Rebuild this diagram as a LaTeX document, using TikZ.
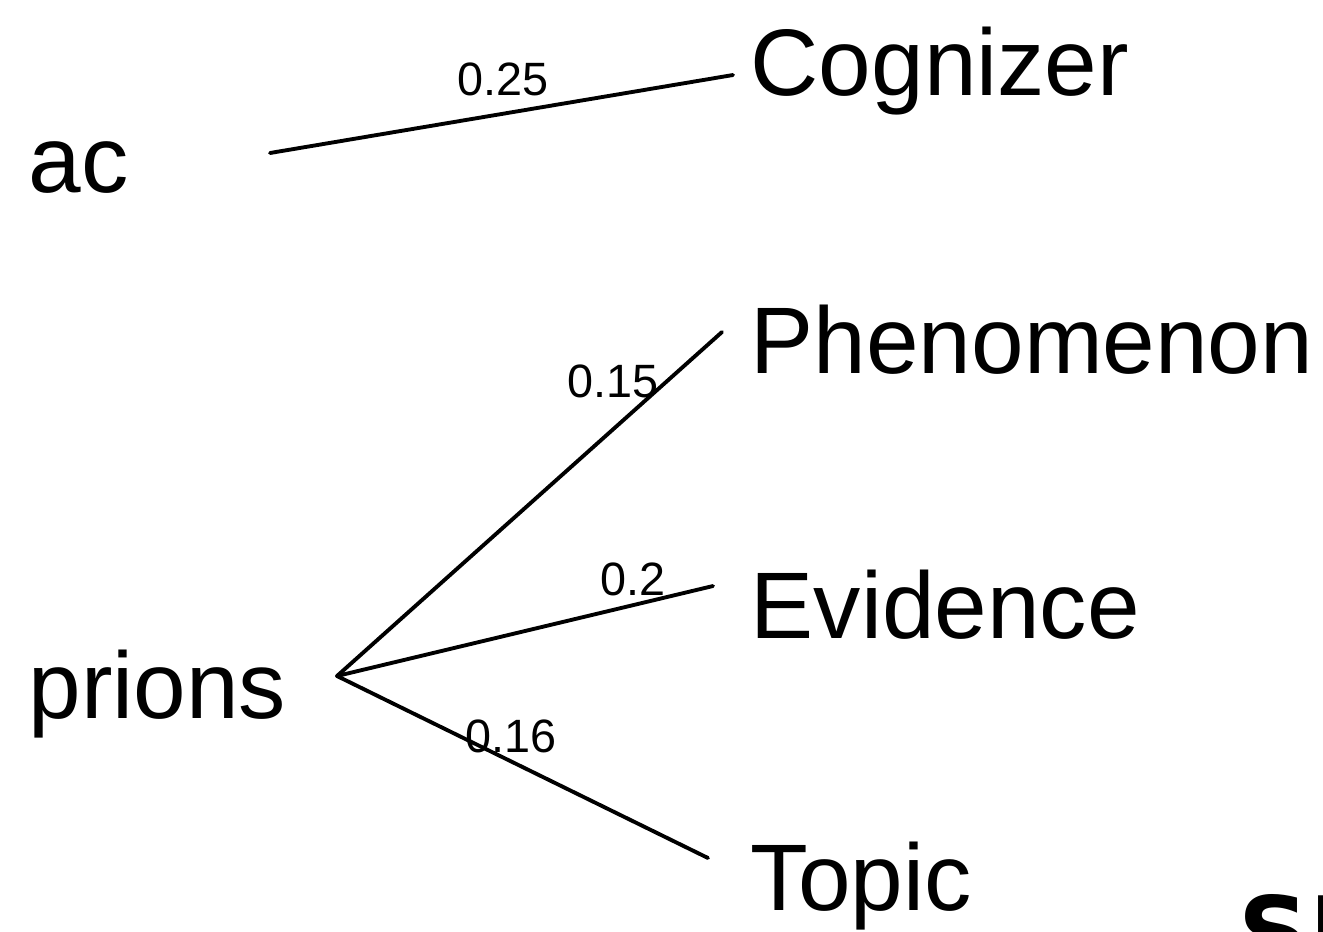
\documentclass[tikz,border=0pt]{standalone}
\usepackage{fontspec}
\setmainfont{Liberation Sans}
\newfontfamily\fragfont{DejaVu Sans}
\usepackage{tikz}

\begin{document}
\begin{tikzpicture}[
    word/.style={anchor=base west,inner sep=0pt,font=\fontsize{26.9}{30}\selectfont},
    weight/.style={anchor=base west,inner sep=0pt,font=\fontsize{13.3}{15}\selectfont},
    link/.style={line width=1.1pt,line cap=round}]
  \useasboundingbox (0,0) rectangle (13.23,9.31);
  \clip (0,0) rectangle (13.23,9.31);
  % words on the left
  \node[word] (ac)     at (0.28,7.39) {ac};
  \node[word] (prions) at (0.28,2.13) {prions};
  % frames on the right
  \node[word] (cognizer)   at (7.50,8.36) {Cognizer};
  \node[word] (phenomenon) at (7.50,5.58) {Phenomenon};
  \node[word] (evidence)   at (7.50,2.93) {Evidence};
  \node[word] (topic)      at (7.50,0.21) {Topic};
  \coordinate (hub) at ([shift={(3.09,0.42)}]prions.base west);
  \draw[link] ([shift={(2.42,0.39)}]ac.base west) -- ([shift={(-0.17,0.20)}]cognizer.base west);
  \draw[link] (hub) -- ([shift={(-0.28,0.41)}]phenomenon.base west);
  \draw[link] (hub) -- ([shift={(-0.37,0.52)}]evidence.base west);
  \draw[link] (hub) -- ([shift={(-0.42,0.52)}]topic.base west);
  % weights
  \node[weight] (w1) at (4.57,8.36) {0.25};
  \node[weight] (w2) at (5.67,5.34) {0.15};
  \node[weight] (w3) at (6.00,3.36) {0.2};
  \node[weight] (w4) at (4.65,1.79) {0.16};
  % cut off text in the corner
  \node[anchor=base west,inner sep=0pt,font=\fragfont\bfseries\fontsize{28}{30}\selectfont] (frag) at (12.38,-0.36) {SE};
\end{tikzpicture}
\end{document}
